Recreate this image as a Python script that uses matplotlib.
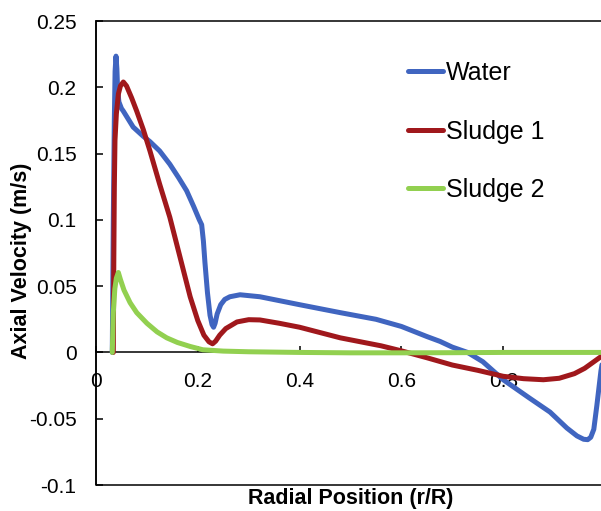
import matplotlib
matplotlib.use("Agg")
import matplotlib.pyplot as plt
from matplotlib.patches import Rectangle

plt.rcParams["font.family"] = ["Liberation Sans", "DejaVu Sans"]

# 数据：径向位置和轴向速度
water_x = [0.032, 0.034, 0.036, 0.0375, 0.0393, 0.041, 0.0425, 0.045, 0.050, 0.0537,
           0.073, 0.093, 0.106, 0.125, 0.145, 0.162, 0.178, 0.192, 0.203, 0.2076,
           0.211, 0.214, 0.219, 0.224, 0.228, 0.231, 0.234, 0.238, 0.245, 0.253,
           0.263, 0.283, 0.322, 0.40, 0.48, 0.55, 0.60, 0.65, 0.676, 0.70,
           0.73, 0.76, 0.80, 0.85, 0.892, 0.925, 0.945, 0.958, 0.966, 0.972,
           0.978, 0.984, 0.988, 0.992, 0.996, 1.0]
water_y = [0.0, 0.10, 0.175, 0.212, 0.2235, 0.214, 0.198, 0.189, 0.184, 0.182,
           0.170, 0.163, 0.159, 0.152, 0.142, 0.132, 0.122, 0.110, 0.100, 0.0963,
           0.084, 0.068, 0.045, 0.028, 0.021, 0.019, 0.022, 0.029, 0.036, 0.040,
           0.042, 0.0435, 0.042, 0.036, 0.030, 0.025, 0.0196, 0.012, 0.0083, 0.004,
           0.0, -0.007, -0.0206, -0.034, -0.045, -0.057, -0.063, -0.0655, -0.0658, -0.064,
           -0.058, -0.040, -0.027, -0.014, -0.005, -0.002]

sludge1_x = [0.034, 0.035, 0.036, 0.0373, 0.040, 0.044, 0.048, 0.0537, 0.060, 0.070,
             0.080, 0.093, 0.106, 0.125, 0.145, 0.165, 0.185, 0.200, 0.212, 0.222,
             0.229, 0.235, 0.243, 0.255, 0.277, 0.30, 0.322, 0.36, 0.40, 0.45,
             0.48, 0.52, 0.56, 0.60, 0.65, 0.70, 0.75, 0.80, 0.84, 0.879,
             0.91, 0.94, 0.96, 0.98, 1.0]
sludge1_y = [0.0, 0.07, 0.125, 0.160, 0.180, 0.195, 0.201, 0.204, 0.201, 0.192,
             0.182, 0.168, 0.152, 0.127, 0.102, 0.072, 0.042, 0.024, 0.013, 0.008,
             0.0065, 0.0085, 0.013, 0.018, 0.023, 0.0247, 0.0245, 0.022, 0.019, 0.014,
             0.011, 0.008, 0.005, 0.0012, -0.004, -0.0095, -0.0135, -0.018, -0.0198, -0.0206,
             -0.0195, -0.016, -0.012, -0.0065, -0.001]

sludge2_x = [0.032, 0.034, 0.037, 0.040, 0.0439, 0.048, 0.055, 0.067, 0.080, 0.100,
             0.120, 0.139, 0.160, 0.185, 0.210, 0.250, 0.300, 0.400, 0.500, 0.600,
             0.700, 0.800, 1.0]
sludge2_y = [0.0, 0.030, 0.048, 0.056, 0.0603, 0.055, 0.047, 0.0375, 0.030, 0.022,
             0.0155, 0.011, 0.0075, 0.0045, 0.002, 0.001, 0.0005, 0.0, -0.0003, -0.0003,
             -0.0002, 0.0, 0.0]

series_names = ["Water", "Sludge 1", "Sludge 2"]
series_colors = ["#4065c0", "#a0181c", "#92d050"]

x_ticks = [0, 0.2, 0.4, 0.6, 0.8]
x_tick_labels = ["0", "0.2", "0.4", "0.6", "0.8"]
y_ticks = [-0.1, -0.05, 0, 0.05, 0.1, 0.15, 0.2, 0.25]
y_tick_labels = ["-0.1", "-0.05", "0", "0.05", "0.1", "0.15", "0.2", "0.25"]


def main():
    W, H = 601, 511
    fig = plt.figure(figsize=(W / 100, H / 100), dpi=100)

    # 绘图区像素位置（右侧在原图里被裁掉一点）
    left, right, top, bottom = 96, 605, 21, 485
    ax = fig.add_axes([left / W, 1 - bottom / H, (right - left) / W, (bottom - top) / H])

    data = [(water_x, water_y), (sludge1_x, sludge1_y), (sludge2_x, sludge2_y)]
    for (xs, ys), name, color in zip(data, series_names, series_colors):
        ax.plot(xs, ys, color=color, linewidth=3.6, label=name, zorder=3,
                solid_joinstyle="round", solid_capstyle="round")

    ax.set_xlim(0, 1)
    ax.set_ylim(-0.1, 0.25)

    # x 轴放在 y=0 处，外框另画
    ax.spines["bottom"].set_position(("data", 0))
    ax.spines["top"].set_visible(False)
    ax.spines["right"].set_visible(False)
    for s in ("bottom", "left"):
        ax.spines[s].set_linewidth(1.1)
    ax.add_patch(Rectangle((0, 0), 1, 1, transform=ax.transAxes, fill=False,
                           edgecolor="black", linewidth=1.1, clip_on=False, zorder=2.5))

    ax.set_xticks(x_ticks)
    ax.set_xticklabels(x_tick_labels)
    ax.set_yticks(y_ticks)
    ax.set_yticklabels(y_tick_labels)
    ax.tick_params(axis="x", direction="in", length=4, width=1.1, pad=14, labelsize=15)
    ax.tick_params(axis="y", direction="in", length=5, width=1.1, pad=14, labelsize=15)

    ax.set_xlabel("Radial Position (r/R)", fontsize=15.5, fontweight="bold")
    ax.xaxis.set_label_coords((350.5 - left) / (right - left), (bottom - 498) / (bottom - top))
    ax.xaxis.label.set_va("center")
    ax.set_ylabel("Axial Velocity (m/s)", fontsize=15.5, fontweight="bold")
    ax.yaxis.set_label_coords((22 - left) / (right - left), (bottom - 261) / (bottom - top))
    ax.yaxis.label.set_va("center")

    ax.legend(loc="upper left",
              bbox_to_anchor=((408 - left) / (right - left), (bottom - 61) / (bottom - top)),
              frameon=False, fontsize=18, handlelength=1.4, handletextpad=0.1,
              labelspacing=1.38, borderpad=0, borderaxespad=0)

    fig.savefig("out.png", dpi=100)
    plt.close(fig)


if __name__ == "__main__":
    main()
